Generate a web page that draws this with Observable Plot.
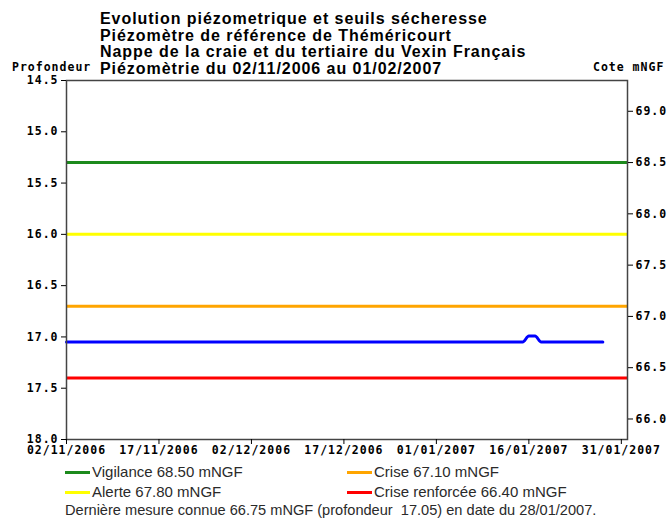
<!DOCTYPE html>
<html>
<head>
<meta charset="utf-8">
<script src="https://cdn.jsdelivr.net/npm/d3@7"></script>
<script src="https://cdn.jsdelivr.net/npm/@observablehq/plot@0.6"></script>
<style>
  html, body { margin: 0; padding: 0; background: #fff; }
  #wrap { position: relative; width: 669px; height: 518px; overflow: hidden; }
  #title { position: absolute; left: 100px; top: 11px; font-family: "Liberation Sans", Arial, sans-serif; font-weight: bold; font-size: 16px; line-height: 16.7px; letter-spacing: 0.95px; color: #000; white-space: nowrap; }
  .axlab { position: absolute; top: 59px; font-family: "DejaVu Sans Mono", monospace; font-weight: bold; font-size: 11.5px; letter-spacing: 1px; line-height: 16px; color: #000; }
  #chart { position: absolute; left: 0; top: 0; }
  #chart svg text { letter-spacing: 1px; }
  #legend { position: absolute; left: 65px; top: 462px; font-family: "Liberation Sans", Arial, sans-serif; font-size: 15px; color: #2a2a2a; }
  .lrow { position: absolute; white-space: nowrap; height: 20px; line-height: 20px; }
  .sw { display: inline-block; width: 25px; height: 3px; vertical-align: middle; margin-right: 2px; position: relative; top: -1px; }
  #caption { position: absolute; left: 65px; top: 500px; height: 20px; line-height: 20px; font-family: "Liberation Sans", Arial, sans-serif; font-size: 14.6px; color: #2a2a2a; white-space: pre; }
</style>
</head>
<body>
<div id="wrap">
  <div id="chart"></div>
  <div id="title"></div>
  <div class="axlab" id="lab-left" style="left:12px"></div>
  <div class="axlab" id="lab-right" style="left:593px"></div>
  <div id="legend"></div>
  <div id="caption"></div>
</div>
<script>
// ---- data ----
const titleLines = [
  "Evolution piézometrique et seuils sécheresse",
  "Piézomètre de référence de Théméricourt",
  "Nappe de la craie et du tertiaire du Vexin Français",
  "Piézomètrie du 02/11/2006 au 01/02/2007"
];
const leftAxisLabel = "Profondeur";
const rightAxisLabel = "Cote mNGF";
const groundCote = 83.8; // cote = groundCote - profondeur

const thresholdNames = ["Vigilance", "Alerte", "Crise", "Crise renforcée"];
const thresholdCote = [68.50, 67.80, 67.10, 66.40];
const thresholdColors = ["#1c8a1c", "#ffff00", "#ffa500", "#ff0000"];

const measureDates = ["2006-11-02", "2007-01-15", "2007-01-16", "2007-01-17", "2007-01-18", "2007-01-28"];
const measureDepth = [17.05, 17.05, 16.99, 16.99, 17.05, 17.05];

const xDomain = ["2006-11-02", "2007-02-01"];
const xTicks = ["2006-11-02", "2006-11-17", "2006-12-02", "2006-12-17", "2007-01-01", "2007-01-16", "2007-01-31"];
const leftTicks = [14.5, 15.0, 15.5, 16.0, 16.5, 17.0, 17.5, 18.0];
const rightTicks = [66.0, 66.5, 67.0, 67.5, 68.0, 68.5, 69.0];
const yDomain = [14.5, 18.0];

const captionText = "Dernière mesure connue 66.75 mNGF (profondeur  17.05) en date du 28/01/2007.";

// ---- build ----
const parse = d3.utcParse("%Y-%m-%d");
const fmtDate = d3.utcFormat("%d/%m/%Y");
const measures = measureDates.map((d, i) => ({date: parse(d), depth: measureDepth[i]}));
const thresholds = thresholdNames.map((n, i) => ({name: n, cote: thresholdCote[i], depth: groundCote - thresholdCote[i], color: thresholdColors[i]}));

const plot = Plot.plot({
  width: 669,
  height: 458,
  marginLeft: 66,
  marginRight: 42,
  marginTop: 80,
  marginBottom: 19,
  style: {fontFamily: "DejaVu Sans Mono", fontWeight: "bold", fontSize: "11.5px", color: "#000", background: "transparent"},
  x: {type: "utc", domain: xDomain.map(parse)},
  y: {domain: yDomain, reverse: true},
  marks: [
    Plot.ruleY(thresholds, {y: "depth", stroke: "color", strokeWidth: 3}),
    Plot.line(measures, {x: "date", y: "depth", stroke: "#0000ff", strokeWidth: 3, curve: "monotone-x"}),
    Plot.frame({stroke: "#444", strokeWidth: 1.5}),
    Plot.axisY({ticks: leftTicks, tickFormat: d => d.toFixed(1), anchor: "left", label: null, tickSize: 5, tickPadding: 3, fontSize: 11.5}),
    Plot.axisY({ticks: rightTicks.map(c => groundCote - c), tickFormat: d => (groundCote - d).toFixed(1), anchor: "right", label: null, tickSize: 5, tickPadding: 3, fontSize: 11.5}),
    Plot.axisX({ticks: xTicks.map(parse), tickFormat: fmtDate, label: null, tickSize: 5, tickPadding: 1, fontSize: 11.5})
  ]
});
document.getElementById("chart").appendChild(plot);

document.getElementById("title").innerHTML = titleLines.join("<br>");
document.getElementById("lab-left").textContent = leftAxisLabel;
document.getElementById("lab-right").textContent = rightAxisLabel;

const legend = document.getElementById("legend");
const order = [[0, 0, 0], [2, 282, 0], [1, 0, 20], [3, 282, 20]];
order.forEach(([i, x, y]) => {
  const t = thresholds[i];
  const row = document.createElement("div");
  row.className = "lrow";
  row.style.left = x + "px";
  row.style.top = y + "px";
  row.innerHTML = `<span class="sw" style="background:${t.color}"></span>${t.name} ${t.cote.toFixed(2)} mNGF`;
  legend.appendChild(row);
});
document.getElementById("caption").textContent = captionText;
</script>
</body>
</html>
